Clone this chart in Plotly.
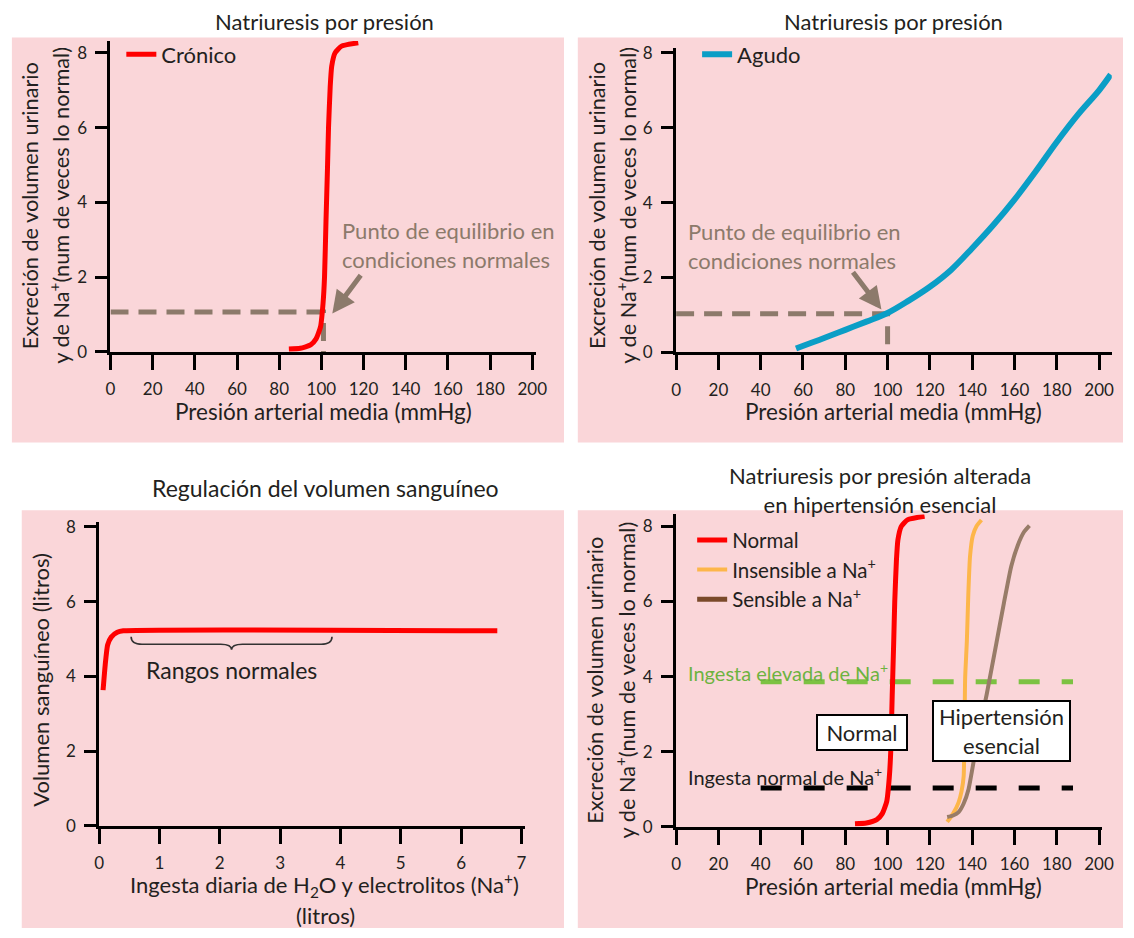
import plotly.graph_objects as go

W, H = 1134, 938
FONT = "Lato"
TXT = "#231f20"
PINK = "#fad6d9"
BROWN_REF = "#8c7a6b"

# ---------------- data ----------------
# Panel A: chronic pressure natriuresis
chron_x = [84.6, 90, 94.9, 97.5, 99.6, 100.8, 101.5, 102.2, 102.9, 103.4, 104.2, 104.9, 106.5, 109.6, 117.5]
chron_y = [0.08, 0.10, 0.19, 0.35, 0.67, 1.30, 2.00, 3.50, 4.90, 6.00, 7.10, 7.64, 8.00, 8.18, 8.27]
eq_chron = [101, 1.07]          # equilibrium point (x, y)

# Panel B: acute pressure natriuresis
acute_x = [56.7, 70, 80, 90, 100, 110, 120, 130, 140, 150, 160, 170, 180, 190, 200, 205.5]
acute_y = [0.10, 0.38, 0.60, 0.82, 1.05, 1.38, 1.75, 2.20, 2.78, 3.40, 4.08, 4.83, 5.62, 6.35, 7.00, 7.42]
eq_acute = [100, 1.03]

# Panel C: blood volume vs daily intake
vol_x = [0.065, 0.10, 0.14, 0.20, 0.30, 0.40, 6.60]
vol_y = [3.63, 4.30, 4.84, 5.05, 5.18, 5.22, 5.22]
brace_range = [0.53, 3.86]

# Panel D: hypertension
norm_x = chron_x
norm_y = chron_y
ins_x = [128.2, 131, 133.6, 135, 136, 136.7, 137.5, 138.2, 139, 140.3, 142, 144.4]
ins_y = [0.13, 0.35, 0.65, 0.95, 1.35, 3.97, 4.93, 6.20, 7.20, 7.75, 8.00, 8.17]
sen_x = [128.2, 131, 133.6, 136, 138.3, 141.4, 144, 146.9, 151.5, 155, 158.5, 161.6, 164.5, 167.1]
sen_y = [0.26, 0.30, 0.39, 0.62, 1.00, 1.96, 2.75, 3.53, 4.90, 5.95, 6.94, 7.50, 7.85, 8.02]
intake_x = [40, 187.7]
high_intake = 3.86
normal_intake = 1.03

press_ticks = list(range(0, 201, 20))
vol_ticks = list(range(0, 8))
y_ticks = [0, 2, 4, 6, 8]


def px(x):
    return x / W


def py(y):
    return 1 - y / H


fig = go.Figure()

# ---- Panel A ----
fig.add_trace(go.Scatter(x=[0, eq_chron[0], eq_chron[0]], y=[eq_chron[1], eq_chron[1], 0],
                         mode="lines", line=dict(color=BROWN_REF, width=5, dash="18px,10px"),
                         showlegend=False, xaxis="x", yaxis="y", hoverinfo="skip"))
fig.add_trace(go.Scatter(x=chron_x, y=chron_y, mode="lines", name="Crónico",
                         line=dict(color="#ff0000", width=5, shape="spline", smoothing=0.5),
                         xaxis="x", yaxis="y", legend="legend"))

# ---- Panel B ----
fig.add_trace(go.Scatter(x=[0, eq_acute[0], eq_acute[0]], y=[eq_acute[1], eq_acute[1], -0.2],
                         mode="lines", line=dict(color=BROWN_REF, width=5, dash="18px,10px"),
                         showlegend=False, xaxis="x2", yaxis="y2", hoverinfo="skip"))
fig.add_trace(go.Scatter(x=acute_x, y=acute_y, mode="lines", name="Agudo",
                         line=dict(color="#0a9ec6", width=6, shape="spline", smoothing=1.0),
                         xaxis="x2", yaxis="y2", legend="legend2"))

# ---- Panel C ----
fig.add_trace(go.Scatter(x=vol_x, y=vol_y, mode="lines",
                         line=dict(color="#ff0000", width=5, shape="spline", smoothing=0.5),
                         showlegend=False, xaxis="x3", yaxis="y3"))

# ---- Panel D ----
fig.add_trace(go.Scatter(x=intake_x, y=[high_intake] * 2, mode="lines",
                         line=dict(color="#7cc242", width=5, dash="21px,22px"),
                         showlegend=False, xaxis="x4", yaxis="y4", hoverinfo="skip"))
fig.add_trace(go.Scatter(x=intake_x, y=[normal_intake] * 2, mode="lines",
                         line=dict(color="#000000", width=5, dash="21px,22px"),
                         showlegend=False, xaxis="x4", yaxis="y4", hoverinfo="skip"))
fig.add_trace(go.Scatter(x=norm_x, y=norm_y, mode="lines", name="Normal",
                         line=dict(color="#ff0000", width=5, shape="spline", smoothing=0.5),
                         xaxis="x4", yaxis="y4", legend="legend3"))
fig.add_trace(go.Scatter(x=ins_x, y=ins_y, mode="lines", name="Insensible a Na<sup>+</sup>",
                         line=dict(color="#fdb64a", width=4, shape="spline", smoothing=0.5),
                         xaxis="x4", yaxis="y4", legend="legend3"))
fig.add_trace(go.Scatter(x=sen_x, y=sen_y, mode="lines", name="Sensible a Na<sup>+</sup>",
                         line=dict(color="#987c68", width=4, shape="spline", smoothing=0.5),
                         xaxis="x4", yaxis="y4", showlegend=False))
fig.add_trace(go.Scatter(x=[None], y=[None], mode="lines", name="Sensible a Na<sup>+</sup>",
                         line=dict(color="#7a4a2a", width=5), xaxis="x4", yaxis="y4", legend="legend3"))

base_axis = dict(showline=True, linecolor="black", linewidth=3, ticks="outside",
                 tickwidth=3, tickcolor="black", showgrid=False, zeroline=False, fixedrange=True,
                 tickfont=dict(family=FONT, size=17, color=TXT))
xax = dict(base_axis, ticklen=15, ticklabelstandoff=5)
yax = dict(base_axis, ticklen=12, ticklabelstandoff=5)

layout = dict(
    width=W, height=H, margin=dict(l=0, r=0, t=0, b=0),
    paper_bgcolor="white", plot_bgcolor="rgba(0,0,0,0)",
    font=dict(family=FONT, color=TXT),
    xaxis=dict(xax, domain=[px(107), px(538.4)], range=[0, 201.7], tickvals=press_ticks, anchor="y"),
    yaxis=dict(yax, domain=[py(352), py(35.5)], range=[0, 8.32], tickvals=y_ticks, anchor="x"),
    xaxis2=dict(xax, domain=[px(680.7), px(1122.6)], range=[0, 206], tickvals=press_ticks, anchor="y2"),
    yaxis2=dict(yax, domain=[py(352.3), py(43.1)], range=[0, 8.12], tickvals=y_ticks, anchor="x2"),
    xaxis3=dict(xax, domain=[px(95.5), px(527.5)], range=[0, 7.06], tickvals=vol_ticks, anchor="y3"),
    yaxis3=dict(yax, domain=[py(834), py(525.4)], range=[0, 8.12], tickvals=y_ticks, anchor="x3"),
    xaxis4=dict(xax, domain=[px(680.7), px(1113.1)], range=[0, 201.6], tickvals=press_ticks, anchor="y4"),
    yaxis4=dict(yax, domain=[py(835), py(517.2)], range=[0, 8.32], tickvals=y_ticks, anchor="x4"),
    legend=dict(x=px(118), y=py(28), xanchor="left", yanchor="top", bgcolor="rgba(0,0,0,0)",
                font=dict(family=FONT, size=22, color=TXT), itemwidth=30),
    legend2=dict(x=px(702), y=py(28), xanchor="left", yanchor="top", bgcolor="rgba(0,0,0,0)",
                 font=dict(family=FONT, size=22, color=TXT), itemwidth=30),
    legend3=dict(x=px(697), y=py(523), xanchor="left", yanchor="top", bgcolor="rgba(0,0,0,0)",
                 font=dict(family=FONT, size=20.5, color=TXT), itemwidth=30, tracegroupgap=0),
    showlegend=True,
)
fig.update_layout(**layout)

# pink panel backgrounds
shapes = []
for (x0, y0, x1, y1) in [(7, 32, 567, 444), (581, 32, 1134, 444), (17, 513, 567, 938), (581, 513, 1134, 938)]:
    shapes.append(dict(type="rect", xref="paper", yref="paper", x0=px(x0), x1=px(x1), y0=py(y1), y1=py(y0),
                       fillcolor=PINK, line=dict(width=0), layer="below"))

# brace for "Rangos normales"
bx0, bx1 = brace_range
bm = (bx0 + bx1) / 2
yt, ym, ytip, dx = 5.06, 4.86, 4.71, 0.18
brace_path = (f"M{bx0},{yt} Q{bx0},{ym} {bx0 + dx},{ym} L{bm - dx},{ym} Q{bm},{ym} {bm},{ytip} "
              f"Q{bm},{ym} {bm + dx},{ym} L{bx1 - dx},{ym} Q{bx1},{ym} {bx1},{yt}")
shapes.append(dict(type="path", xref="x3", yref="y3", path=brace_path, line=dict(color="#333333", width=1.6)))
fig.update_layout(shapes=shapes)

ann = []


def text(x, y, s, size=21, color=TXT, xanchor="center", angle=0, xref="paper", yref="paper", **kw):
    d = dict(x=x, y=y, xref=xref, yref=yref, text=s, showarrow=False, xanchor=xanchor, yanchor="middle",
             textangle=angle, font=dict(family=FONT, size=size, color=color))
    d.update(kw)
    ann.append(d)


# titles
text(px(324), py(16), "Natriuresis por presión", size=22)
text(px(901), py(16), "Natriuresis por presión", size=22)
text(px(325), py(490), "Regulación del volumen sanguíneo", size=23)
text(px(888), py(492), "Natriuresis por presión alterada<br>en hipertensión esencial", size=22)

# x axis titles
AX = 22.5
AY = 21.7
text(px(323), py(413), "Presión arterial media (mmHg)", size=AX)
text(px(901), py(413), "Presión arterial media (mmHg)", size=AX)
text(px(901), py(896), "Presión arterial media (mmHg)", size=AX)
text(px(324), py(894), "Ingesta diaria de H<sub>2</sub>O y electrolitos (Na<sup>+</sup>)", size=22)
text(px(325), py(925), "(litros)", size=22)

# y axis titles
ytitle1 = "Excreción de volumen urinario"
ytitle2 = "y de Na<sup>+</sup>(num de veces lo normal)"
text(px(25), py(203), ytitle1, angle=-90, size=AY)
text(px(55), py(203), ytitle2, angle=-90, size=AY)
text(px(600), py(203), ytitle1, angle=-90, size=AY)
text(px(630), py(203), ytitle2, angle=-90, size=AY)
text(px(599), py(686), ytitle1, angle=-90, size=AY)
text(px(629), py(686), ytitle2, angle=-90, size=AY)
text(px(36), py(685), "Volumen sanguíneo (litros)", angle=-90, size=22)

# equilibrium annotations
eq_text = "Punto de equilibrio en<br>condiciones normales"
text(108.9, 2.85, eq_text, size=22, color=BROWN_REF, xanchor="left", xref="x", yref="y", align="left")
text(4.6, 2.85, eq_text, size=22, color=BROWN_REF, xanchor="left", xref="x2", yref="y2", align="left")
ann.append(dict(x=105.2, y=1.03, ax=119.2, ay=2.09, xref="x", yref="y", axref="x", ayref="y", text="",
                showarrow=True, arrowhead=2, arrowsize=0.9, arrowwidth=5, arrowcolor=BROWN_REF))
ann.append(dict(x=97.1, y=1.14, ax=83.1, ay=2.18, xref="x2", yref="y2", axref="x2", ayref="y2", text="",
                showarrow=True, arrowhead=2, arrowsize=0.9, arrowwidth=5, arrowcolor=BROWN_REF))

# panel C label
text(bm, 4.18, "Rangos normales", size=23, xref="x3", yref="y3")

# panel D labels
text(4.5, 4.12, "Ingesta elevada de Na<sup>+</sup>", size=20, color="#6db33f", xanchor="left",
     xref="x4", yref="y4")
text(4.5, 1.34, "Ingesta normal de Na<sup>+</sup>", size=20, xanchor="left", xref="x4", yref="y4")
text(88.0, 2.52, "Normal", size=22, xref="x4", yref="y4", bgcolor="white", bordercolor="black",
     borderwidth=2, borderpad=1, width=86, height=31)
text(154.0, 2.54, "Hipertensión<br>esencial", size=22, xref="x4", yref="y4", bgcolor="white",
     bordercolor="black", borderwidth=2, borderpad=1, width=133, height=56)

fig.update_layout(annotations=ann)
fig.write_html(
    "out.html",
    config={"displayModeBar": False},
    post_script=(
        "document.documentElement.style.margin='0px';"
        "document.documentElement.style.overflow='hidden';"
        "document.body.style.margin='0px';"
        "document.body.style.overflow='hidden';"
        "document.body.style.height='938px';"
    ),
)
